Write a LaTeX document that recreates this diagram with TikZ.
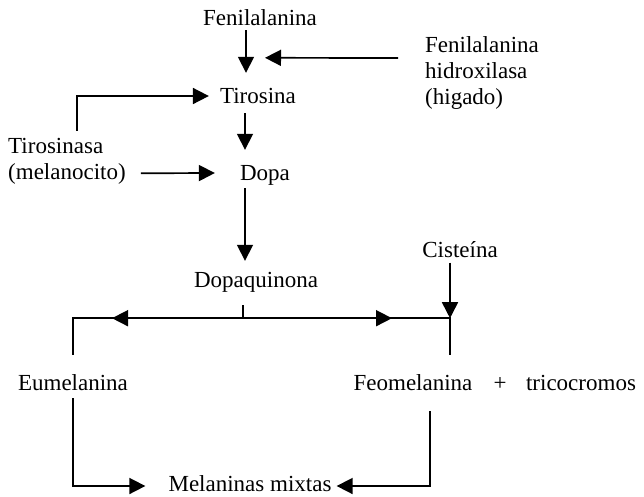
\documentclass[tikz,border=0pt]{standalone}
\usepackage{fontspec}
\setmainfont{Liberation Serif}
\usetikzlibrary{arrows.meta,positioning,calc}

\begin{document}
\begin{tikzpicture}[x=1pt,y=-1pt,
    paso/.style={inner sep=0pt,text height=15pt,text depth=0pt},
    nota/.style={inner sep=0pt,align=left,anchor=west},
    linea/.style={line width=1.7pt},
    flecha/.style={linea,-{Triangle[length=16pt,width=16pt]}},
    font=\fontsize{23}{26}\selectfont]
  \useasboundingbox (0,0) rectangle (644,496);
  % camino principal
  \node[paso] (fen)  at (260,18)  {Fenilalanina};
  \node[paso] (tir)  at (258,96)  {Tirosina};
  \node[paso] (dopa) at (265,173) {Dopa};
  \node[paso] (dq)   at (256,280) {Dopaquinona};
  \node[paso] (cis)  at (460,250) {Cisteína};
  \node[paso] (eu)   at (73,383)  {Eumelanina};
  \node[paso] (feo)  at (413,383) {Feomelanina};
  \node[paso] (mas)  at (500,383) {+};
  \node[paso] (tri)  at (581,383) {tricocromos};
  \node[paso] (mix)  at (250,484) {Melaninas mixtas};
  % enzimas
  \node[nota] (hid) at (425,73)  {Fenilalanina\\ hidroxilasa\\ (higado)};
  \node[nota] (tsa) at (8,161)   {Tirosinasa\\ (melanocito)};
  \coordinate (cruce) at ($(dq.south)+(-13,30.5)$);
  \coordinate (esq)   at ($(cruce)+(-170,0)$);
  \coordinate (codo)  at ($(cruce)+(207,0)$);

  \draw[flecha] ($(fen.south)+(-14,4.5)$) -- ($(tir.north)+(-12,-15.5)$);
  \draw[flecha] ($(hid.west)+(-27,-15)$) -- ($(tir.north)+(7,-30.5)$);
  \draw[flecha] ($(tsa.north west)+(69,-7)$) |- ($(tir.west)+(-11,0)$);
  \draw[flecha] ($(tsa.south east)+(15,-11)$) -- ($(dopa.west)+(-25,0)$);
  \draw[flecha] ($(tir.south)+(-13,9.5)$) -- ($(dopa.north)+(-20,-15.5)$);
  \draw[flecha] ($(dopa.south)+(-20,7.5)$) -- ($(dq.north)+(-11,-11.5)$);
  \draw[linea] ($(dq.south)+(-13,17.5)$) -- (cruce);
  \draw[flecha] (cruce) -- ++(-131,0);
  \draw[linea] ($(cruce)+(-125,0)$) -- (esq) -- ($(eu.north)+(0,-20)$);
  \draw[flecha] (cruce) -- ++(149,0);
  \draw[linea] ($(cruce)+(140,0)$) -- (codo) |- ($(feo.north)+(37,-20)$);
  \draw[flecha] ($(cis.south)+(-10,5)$) -- (codo);
  \draw[flecha] ($(eu.south)+(0,7.5)$) |- ($(mix.west)+(-23,2)$);
  \draw[flecha] ($(feo.south)+(17,20.5)$) |- ($(mix.east)+(5,2)$);
\end{tikzpicture}
\end{document}
